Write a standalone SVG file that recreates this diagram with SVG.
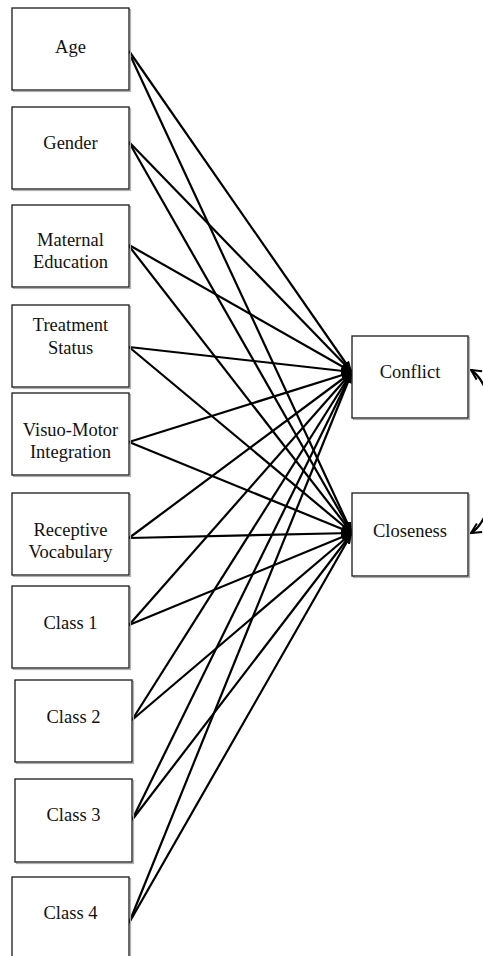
<svg xmlns="http://www.w3.org/2000/svg" width="483" height="956" viewBox="0 0 483 956">
<style>
.box{fill:#fff;stroke:#1a1a1a;stroke-width:1.3}
.sh{fill:none;stroke:#b0b0b0;stroke-width:1.2}
.t{font-family:"Liberation Serif","Times New Roman",serif;font-size:18.5px;fill:#111;text-anchor:middle;dominant-baseline:central}
.e{stroke:#000;stroke-width:2.2;fill:none;marker-end:url(#ah)}
.c{stroke:#000;stroke-width:2.2;fill:none;marker-start:url(#ov);marker-end:url(#ov)}
</style>
<defs>
<marker id="ah" markerUnits="userSpaceOnUse" markerWidth="12" markerHeight="10" refX="11" refY="4" orient="auto" viewBox="0 0 12 8">
<path d="M0,0 L11,4 L0,8 z" fill="#000"/>
</marker>
<marker id="ov" markerUnits="userSpaceOnUse" markerWidth="14" markerHeight="14" refX="11" refY="6" orient="auto-start-reverse" viewBox="0 0 14 12">
<path d="M1,1 L11,6 L1,11" fill="none" stroke="#000" stroke-width="2"/>
</marker>
</defs>
<g id="connectors">
<line class="e" x1="129" y1="51" x2="352" y2="372"/>
<line class="e" x1="131" y1="57" x2="352" y2="533"/>
<line class="e" x1="129" y1="142" x2="352" y2="372"/>
<line class="e" x1="130" y1="144" x2="352" y2="533"/>
<line class="e" x1="129" y1="245" x2="352" y2="372"/>
<line class="e" x1="129" y1="246" x2="352" y2="533"/>
<line class="e" x1="129" y1="347" x2="352" y2="372"/>
<line class="e" x1="129" y1="347" x2="352" y2="533"/>
<line class="e" x1="129" y1="442" x2="352" y2="372"/>
<line class="e" x1="129" y1="442" x2="352" y2="533"/>
<line class="e" x1="129" y1="538" x2="352" y2="372"/>
<line class="e" x1="129" y1="538" x2="352" y2="533"/>
<line class="e" x1="129" y1="625" x2="352" y2="372"/>
<line class="e" x1="129" y1="625" x2="352" y2="533"/>
<line class="e" x1="132" y1="720" x2="352" y2="372"/>
<line class="e" x1="132" y1="720" x2="352" y2="533"/>
<line class="e" x1="132" y1="820" x2="352" y2="372"/>
<line class="e" x1="132" y1="820" x2="352" y2="533"/>
<line class="e" x1="129" y1="923" x2="352" y2="372"/>
<line class="e" x1="129" y1="923" x2="352" y2="533"/>
<path class="c" d="M471,370 C505,392 505,512 471,533"/>
</g>
<g id="age"><rect class="sh" x="13.5" y="9.5" width="117" height="82"/><rect class="box" x="12" y="8" width="117" height="82"/><text class="t" x="70.5" y="47">Age</text></g>
<g id="gender"><rect class="sh" x="13.5" y="108.5" width="117" height="82"/><rect class="box" x="12" y="107" width="117" height="82"/><text class="t" x="70.5" y="143">Gender</text></g>
<g id="maternal"><rect class="sh" x="13.5" y="206.5" width="117" height="82"/><rect class="box" x="12" y="205" width="117" height="82"/><text class="t" x="70.5" y="240">Maternal</text><text class="t" x="70.5" y="262">Education</text></g>
<g id="treatment"><rect class="sh" x="13.5" y="306.5" width="117" height="82"/><rect class="box" x="12" y="305" width="117" height="82"/><text class="t" x="70.5" y="325">Treatment</text><text class="t" x="70.5" y="348">Status</text></g>
<g id="visuo"><rect class="sh" x="13.5" y="394.5" width="117" height="82"/><rect class="box" x="12" y="393" width="117" height="82"/><text class="t" x="70.5" y="430">Visuo-Motor</text><text class="t" x="70.5" y="452">Integration</text></g>
<g id="receptive"><rect class="sh" x="13.5" y="494.5" width="117" height="82"/><rect class="box" x="12" y="493" width="117" height="82"/><text class="t" x="70.5" y="530">Receptive</text><text class="t" x="70.5" y="552">Vocabulary</text></g>
<g id="class1"><rect class="sh" x="13.5" y="587.5" width="117" height="82"/><rect class="box" x="12" y="586" width="117" height="82"/><text class="t" x="70.5" y="623">Class 1</text></g>
<g id="class2"><rect class="sh" x="16.5" y="681.5" width="117" height="82"/><rect class="box" x="15" y="680" width="117" height="82"/><text class="t" x="73.5" y="717">Class 2</text></g>
<g id="class3"><rect class="sh" x="16.5" y="780.5" width="117" height="83"/><rect class="box" x="15" y="779" width="117" height="83"/><text class="t" x="73.5" y="815">Class 3</text></g>
<g id="class4"><rect class="sh" x="13.5" y="878.5" width="117" height="90"/><rect class="box" x="12" y="877" width="117" height="90"/><text class="t" x="70.5" y="913">Class 4</text></g>
<g id="conflict"><rect class="sh" x="353.5" y="337.5" width="116" height="82"/><rect class="box" x="352" y="336" width="116" height="82"/><text class="t" x="410" y="372">Conflict</text></g>
<g id="closeness"><rect class="sh" x="353.5" y="494.5" width="116" height="83"/><rect class="box" x="352" y="493" width="116" height="83"/><text class="t" x="410" y="531">Closeness</text></g>
</svg>
